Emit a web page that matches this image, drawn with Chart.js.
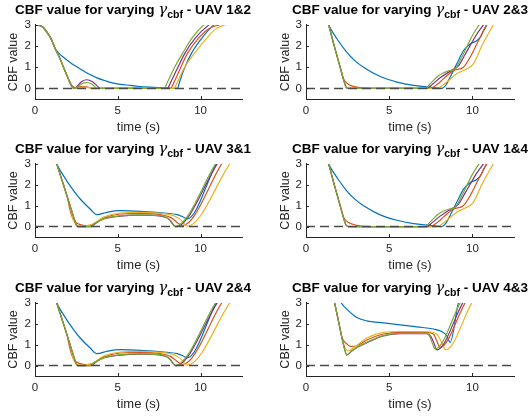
<!DOCTYPE html>
<html>
<head>
<meta charset="utf-8">
<script src="https://cdn.jsdelivr.net/npm/chart.js@4.4.1/dist/chart.umd.min.js"></script>
<style>
  body { margin: 0; background: #fff; width: 532px; height: 420px; position: relative; overflow: hidden;
         font-family: "Liberation Sans", Arial, sans-serif; }
  .ttl { position: absolute; width: 320px; text-align: center; font-weight: bold; font-size: 13.5px;
         line-height: 16px; color: #000; white-space: nowrap; z-index: 2; }
  .ttl i { font-weight: normal; font-family: "DejaVu Serif", serif; font-size: 15px; }
  .ttl sub { font-size: 10.5px; vertical-align: -4px; line-height: 0; }
  canvas { position: absolute; }
</style>
</head>
<body>
<script>
// axes
const xTicks = [0, 5, 10];
const yTicks = [0, 1, 2, 3];
const xRange = [0, 12.5];
const yRange = [-0.5, 3];
const seriesNames = ['blue', 'orange', 'yellow', 'purple', 'green'];
const seriesColors = ['#0072BD', '#D95319', '#EDB120', '#7E2F8E', '#77AC30'];
const zeroLine = [[0, 0], [12.5, 0]];

// UAV 1&2  ([time, CBF value])
const u12Blue = [[0,3],[0.25,2.98],[0.5,2.88],[0.75,2.62],[1.0,2.3],[1.22,1.88],[1.5,1.62],[1.72,1.47],[2.2,1.18],[2.73,0.92],[3.2,0.7],[3.74,0.5],[4.25,0.36],[4.75,0.25],[5.76,0.14],[6.36,0.09],[7.6,0.04],[8.59,0],[8.75,0.35],[9.0,0.9],[9.43,1.63],[10.1,2.4],[10.5,2.78],[10.8,3.0],[11.0,3.12]];
const u12Orange = [[0,3],[0.25,2.98],[0.5,2.88],[0.75,2.62],[1.0,2.3],[1.21,1.9],[1.5,1.42],[1.72,1.0],[2.02,0.45],[2.22,0.14],[2.45,0.04],[2.75,0.08],[3.1,0.07],[3.5,0],[8.18,0],[8.4,0.3],[8.75,0.9],[9.19,1.63],[9.9,2.4],[10.5,2.82],[11.1,3.0],[11.3,3.05]];
const u12Yellow = [[0,3],[0.25,2.98],[0.5,2.88],[0.75,2.62],[1.0,2.3],[1.21,1.9],[1.5,1.42],[1.72,1.0],[2.0,0.48],[2.22,0.1],[2.4,0.03],[2.8,0.05],[3.3,0.04],[3.7,0],[8.38,0],[8.6,0.3],[9.0,0.95],[9.6,1.63],[10.4,2.4],[10.9,2.8],[11.45,3.0],[11.7,3.05]];
const u12Purple = [[0,3],[0.25,2.98],[0.5,2.88],[0.75,2.62],[1.0,2.3],[1.21,1.9],[1.5,1.42],[1.72,1.0],[2.0,0.48],[2.22,0.08],[2.42,0],[2.6,0.15],[2.85,0.34],[3.13,0.41],[3.45,0.33],[3.75,0.12],[3.94,0],[7.98,0],[8.2,0.3],[8.6,0.95],[9.03,1.63],[9.7,2.4],[10.5,3.0],[10.7,3.1]];
const u12Green = [[0,3],[0.25,2.98],[0.5,2.88],[0.75,2.62],[1.0,2.3],[1.21,1.9],[1.5,1.42],[1.72,1.0],[2.0,0.48],[2.22,0.08],[2.35,0],[2.5,0.02],[2.7,0.15],[2.95,0.26],[3.15,0.28],[3.45,0.2],[3.74,0],[7.78,0],[8.0,0.3],[8.4,0.95],[8.89,1.63],[9.5,2.4],[10.2,3.0],[10.4,3.1]];

// UAV 2&3 (UAV 1&4 gives the same curves)
const u23Blue = [[1.3,3.12],[1.36,3.0],[1.9,2.3],[2.46,1.7],[2.95,1.3],[3.46,1.0],[4.46,0.56],[5.46,0.3],[6.46,0.14],[7.46,0.06],[8.16,0],[8.4,0.15],[8.66,0.53],[9.06,1.16],[9.46,1.78],[9.86,2.1],[10.26,2.25],[10.5,2.45],[10.66,2.72],[10.86,3.0],[10.95,3.15]];
const u23Orange = [[1.3,3.15],[1.36,3.0],[1.7,2.0],[2.06,1.0],[2.26,0.45],[2.56,0.19],[3.06,0.06],[3.86,0],[7.46,0],[7.9,0.2],[8.26,0.45],[8.86,0.84],[9.46,1.0],[9.86,1.47],[10.36,2.25],[10.86,3.0],[10.95,3.12]];
const u23Yellow = [[1.3,3.15],[1.36,3.0],[1.7,2.0],[2.0,1.15],[2.3,0.3],[2.42,0.05],[2.55,0],[7.86,0],[8.46,0.3],[9.06,0.69],[9.66,0.92],[10.06,1.16],[10.56,2.0],[11.26,3.0],[11.35,3.12]];
const u23Purple = [[1.3,3.15],[1.36,3.0],[1.7,2.0],[2.0,1.15],[2.3,0.3],[2.42,0.05],[2.55,0],[7.26,0],[7.6,0.2],[8.06,0.5],[8.76,0.86],[9.16,1.06],[9.56,1.6],[10.26,2.56],[10.66,3.0],[10.75,3.12]];
const u23Green = [[1.3,3.15],[1.36,3.0],[1.7,2.0],[2.0,1.15],[2.3,0.3],[2.42,0.05],[2.55,0],[7.16,0],[7.5,0.25],[7.96,0.6],[8.56,0.83],[8.96,0.92],[9.36,1.47],[10.0,2.5],[10.4,3.0],[10.5,3.12]];

// UAV 3&1 (UAV 2&4 gives the same curves)
const u31Blue = [[1.25,3.12],[1.31,3.0],[1.92,2.19],[2.35,1.7],[2.73,1.32],[3.33,0.84],[3.74,0.57],[4.34,0.68],[5.15,0.76],[6.36,0.73],[7.78,0.65],[8.59,0.57],[8.9,0.48],[9.19,0.37],[10.95,3.0],[11.03,3.1]];
const u31Orange = [[1.25,3.15],[1.31,3.0],[1.7,2.05],[1.95,1.4],[2.1,0.85],[2.22,0.5],[2.4,0.25],[2.63,0.12],[2.9,0.06],[3.13,0.04],[3.43,0.08],[3.8,0.25],[4.14,0.41],[5.15,0.6],[6.36,0.63],[7.58,0.57],[8.18,0.44],[8.5,0.25],[8.69,0.13],[8.89,0.05],[11.27,3.0],[11.35,3.1]];
const u31Yellow = [[1.25,3.15],[1.31,3.0],[1.7,2.05],[2.1,1.05],[2.32,0.3],[2.5,0.08],[2.73,0.02],[3.1,0.03],[3.5,0.12],[4.14,0.45],[5.15,0.65],[6.36,0.68],[7.58,0.63],[8.38,0.52],[8.7,0.38],[8.89,0.25],[9.19,0.02],[11.76,3.0],[11.85,3.1]];
const u31Purple = [[1.25,3.15],[1.31,3.0],[1.7,2.05],[2.1,1.05],[2.4,0.3],[2.53,0.02],[2.6,0],[3.4,0],[3.65,0.15],[4.14,0.36],[5.15,0.5],[6.36,0.55],[7.58,0.5],[7.95,0.42],[8.15,0.3],[8.35,0.1],[8.5,0],[11.0,3.0],[11.08,3.1]];
const u31Green = [[1.25,3.15],[1.31,3.0],[1.7,2.05],[2.1,1.05],[2.4,0.3],[2.53,0.02],[2.6,0],[3.33,0],[3.6,0.15],[4.14,0.37],[5.15,0.52],[6.36,0.56],[7.58,0.52],[7.9,0.45],[8.1,0.33],[8.3,0.12],[8.45,0],[10.9,3.0],[10.98,3.1]];

// UAV 4&3
const u43Blue = [[2.05,3.12],[2.12,3.0],[2.56,2.62],[3.06,2.3],[3.66,2.14],[4.66,2.04],[5.66,1.95],[6.66,1.85],[7.66,1.75],[8.16,1.63],[8.46,1.43],[8.66,1.11],[9.16,3.0],[9.22,3.12]];
const u43Orange = [[1.68,3.15],[1.72,3.0],[2.0,1.95],[2.16,1.35],[2.46,1.03],[2.66,0.92],[3.06,0.95],[3.66,1.22],[4.66,1.51],[5.66,1.59],[7.26,1.59],[7.66,1.51],[7.85,1.2],[8.06,0.87],[9.56,3.0],[9.64,3.1]];
const u43Yellow = [[1.68,3.15],[1.72,3.0],[2.0,1.95],[2.25,1.05],[2.52,0.71],[2.86,0.85],[3.66,1.32],[4.66,1.59],[5.66,1.63],[7.26,1.62],[7.86,1.51],[8.15,1.1],[8.4,0.75],[9.96,3.0],[10.04,3.1]];
const u43Purple = [[1.68,3.15],[1.72,3.0],[2.0,1.95],[2.25,1.0],[2.46,0.5],[2.7,0.66],[3.06,0.86],[3.66,1.1],[4.66,1.42],[5.66,1.53],[7.26,1.53],[7.5,1.4],[7.7,1.05],[7.86,0.75],[9.42,3.0],[9.5,3.1]];
const u43Green = [[1.68,3.15],[1.72,3.0],[2.0,1.95],[2.25,1.0],[2.46,0.52],[2.7,0.68],[3.06,0.87],[3.66,1.11],[4.66,1.43],[5.66,1.54],[7.26,1.54],[7.46,1.35],[7.6,1.05],[7.76,0.79],[9.26,3.0],[9.33,3.1]];

const panels = [
  { title: 'UAV 1&2', col: 0, row: 0, series: [u12Blue, u12Orange, u12Yellow, u12Purple, u12Green] },
  { title: 'UAV 2&3', col: 1, row: 0, series: [u23Blue, u23Orange, u23Yellow, u23Purple, u23Green] },
  { title: 'UAV 3&1', col: 0, row: 1, series: [u31Blue, u31Orange, u31Yellow, u31Purple, u31Green] },
  { title: 'UAV 1&4', col: 1, row: 1, series: [u23Blue, u23Orange, u23Yellow, u23Purple, u23Green] },
  { title: 'UAV 2&4', col: 0, row: 2, series: [u31Blue, u31Orange, u31Yellow, u31Purple, u31Green] },
  { title: 'UAV 4&3', col: 1, row: 2, series: [u43Blue, u43Orange, u43Yellow, u43Purple, u43Green] }
];

// page layout
const colLeft = [0, 265];
const colWidth = [265, 267];
const colAxisWidth = [35, 41];
const colPadRight = [23, 18];
const colYTitlePad = [6, 13];
const colTitleCenter = [133, 410];
const rowTop = [14, 153, 292];
const rowHeight = [121, 120, 120];
const rowTitleTop = [1, 140, 279];

const axisColor = '#262626';
const fontFamily = '"Liberation Sans", Arial, sans-serif';

// MATLAB style ticks pointing into the axes
const inwardTicks = {
  id: 'inwardTicks',
  afterDatasetsDraw(chart) {
    const { ctx, chartArea: a, scales: { x, y } } = chart;
    ctx.save();
    ctx.strokeStyle = axisColor;
    ctx.lineWidth = 1;
    ctx.beginPath();
    xTicks.forEach(v => {
      const px = Math.round(x.getPixelForValue(v)) + 0.5;
      ctx.moveTo(px, a.bottom);
      ctx.lineTo(px, a.bottom - 3);
    });
    yTicks.forEach(v => {
      const py = Math.round(y.getPixelForValue(v)) + 0.5;
      ctx.moveTo(a.left, py);
      ctx.lineTo(a.left + 3, py);
    });
    ctx.stroke();
    ctx.restore();
  }
};

const toPoints = arr => arr.map(p => ({ x: p[0], y: p[1] }));

panels.forEach((p, i) => {
  const ttl = document.createElement('div');
  ttl.className = 'ttl';
  ttl.style.left = (colTitleCenter[p.col] - 160) + 'px';
  ttl.style.top = rowTitleTop[p.row] + 'px';
  ttl.innerHTML = 'CBF value for varying <i>γ</i><sub>cbf</sub> - ' + p.title.replace('&', '&amp;');
  document.body.appendChild(ttl);

  const cv = document.createElement('canvas');
  cv.width = colWidth[p.col];
  cv.height = rowHeight[p.row];
  cv.style.left = colLeft[p.col] + 'px';
  cv.style.top = rowTop[p.row] + 'px';
  document.body.appendChild(cv);

  const datasets = p.series.map((s, k) => ({
    label: seriesNames[k],
    data: toPoints(s),
    borderColor: seriesColors[k],
    borderWidth: 1.2,
    pointRadius: 0,
    cubicInterpolationMode: 'monotone',
    order: 5 - k
  }));
  datasets.push({
    label: 'zero',
    data: toPoints(zeroLine),
    borderColor: '#4a4a4a',
    borderWidth: 1.5,
    borderDash: [9, 5],
    pointRadius: 0,
    order: 0
  });

  new Chart(cv, {
    type: 'line',
    data: { datasets },
    options: {
      responsive: false,
      animation: false,
      devicePixelRatio: 1,
      layout: { padding: { left: 0, right: colPadRight[p.col], top: 10, bottom: 0 } },
      plugins: { legend: { display: false }, tooltip: { enabled: false } },
      scales: {
        x: {
          type: 'linear',
          min: xRange[0],
          max: xRange[1],
          grid: { display: false, drawTicks: false },
          border: { display: true, color: axisColor, width: 1 },
          ticks: { color: axisColor, padding: 5, font: { family: fontFamily, size: 11.5 } },
          title: { display: true, text: 'time (s)', color: axisColor, padding: { top: 0, bottom: 0 },
                   font: { family: fontFamily, size: 13 } },
          afterBuildTicks: s => { s.ticks = xTicks.map(v => ({ value: v })); },
          afterFit: s => { s.height = 36; }
        },
        y: {
          type: 'linear',
          min: yRange[0],
          max: yRange[1],
          grid: { display: false, drawTicks: false },
          border: { display: true, color: axisColor, width: 1 },
          ticks: { color: axisColor, padding: 4, font: { family: fontFamily, size: 11.5 } },
          title: { display: true, text: 'CBF value', color: axisColor, padding: { top: colYTitlePad[p.col], bottom: 0 },
                   font: { family: fontFamily, size: 12.5 } },
          afterBuildTicks: s => { s.ticks = yTicks.map(v => ({ value: v })); },
          afterFit: s => { s.width = colAxisWidth[p.col]; }
        }
      }
    },
    plugins: [inwardTicks]
  });
});
</script>
</body>
</html>
